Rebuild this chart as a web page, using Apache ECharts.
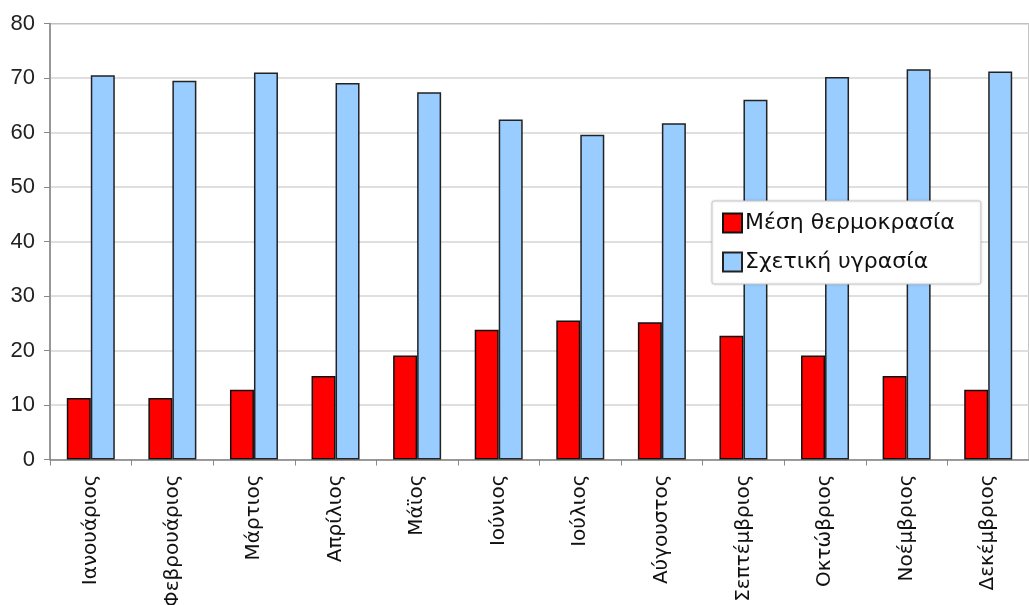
<!DOCTYPE html>
<html>
<head>
<meta charset="utf-8">
<script src="https://cdn.jsdelivr.net/npm/echarts@6/dist/echarts.min.js"></script>
<style>
  html, body { margin: 0; padding: 0; background: #fff; }
  #chart { width: 1029px; height: 605px; }
</style>
</head>
<body>
<div id="chart"></div>
<script>
// months
var months = ['Ιανουάριος', 'Φεβρουάριος', 'Μάρτιος', 'Απρίλιος', 'Μάϊος', 'Ιούνιος',
  'Ιούλιος', 'Αύγουστος', 'Σεπτέμβριος', 'Οκτώβριος', 'Νοέμβριος', 'Δεκέμβριος'];
var temperature = [11.3, 11.3, 12.8, 15.3, 19.1, 23.8, 25.5, 25.2, 22.7, 19.1, 15.3, 12.8];
var humidity = [70.5, 69.5, 71.0, 69.1, 67.4, 62.4, 59.6, 61.7, 66.0, 70.2, 71.6, 71.2];
var yTicks = { min: 0, max: 80, step: 10 };

var font = 'Liberation Sans, Arial, sans-serif';
var wideFont = 'DejaVu Sans, sans-serif';
var chart = echarts.init(document.getElementById('chart'));

chart.setOption({
  animation: false,
  grid: {
    left: 50, right: 0, top: 23.5, bottom: 145.5,
    outerBoundsMode: 'none',
    show: true, borderColor: '#888', borderWidth: 1
  },
  legend: {
    orient: 'vertical',
    left: 712, top: 201,
    padding: [11, 26, 11, 10],
    itemWidth: 19, itemHeight: 19, itemGap: 17,
    backgroundColor: '#fff',
    borderColor: '#c8c8c8', borderWidth: 1, borderRadius: 2,
    shadowColor: 'rgba(0,0,0,0.15)', shadowBlur: 3,
    textStyle: { fontFamily: wideFont, fontSize: 22, color: '#111', padding: [0, 0, 0, -2] },
    icon: 'rect'
  },
  xAxis: {
    type: 'category',
    data: months,
    axisLine: { lineStyle: { color: '#888', width: 1.5 } },
    axisTick: { show: true, length: 6, lineStyle: { color: '#888' } },
    axisLabel: {
      rotate: 90, fontFamily: wideFont, fontSize: 20, color: '#111', margin: 15
    }
  },
  yAxis: {
    type: 'value',
    min: yTicks.min, max: yTicks.max, interval: yTicks.step,
    axisLine: { show: true, lineStyle: { color: '#888', width: 1.5 } },
    axisTick: { show: true, length: 6, lineStyle: { color: '#888' } },
    splitLine: { lineStyle: { color: '#d4d4d4', width: 1.5 } },
    axisLabel: { fontFamily: font, fontSize: 22, color: '#222', margin: 15 }
  },
  series: [
    {
      name: 'Μέση θερμοκρασία',
      type: 'bar',
      data: temperature,
      barWidth: 24,
      barGap: '0%',
      itemStyle: { color: '#ff0000', borderColor: '#111', borderWidth: 1.5 }
    },
    {
      name: 'Σχετική υγρασία',
      type: 'bar',
      data: humidity,
      barWidth: 24,
      itemStyle: { color: '#99ccff', borderColor: '#222', borderWidth: 1.5 }
    }
  ]
});
</script>
</body>
</html>
